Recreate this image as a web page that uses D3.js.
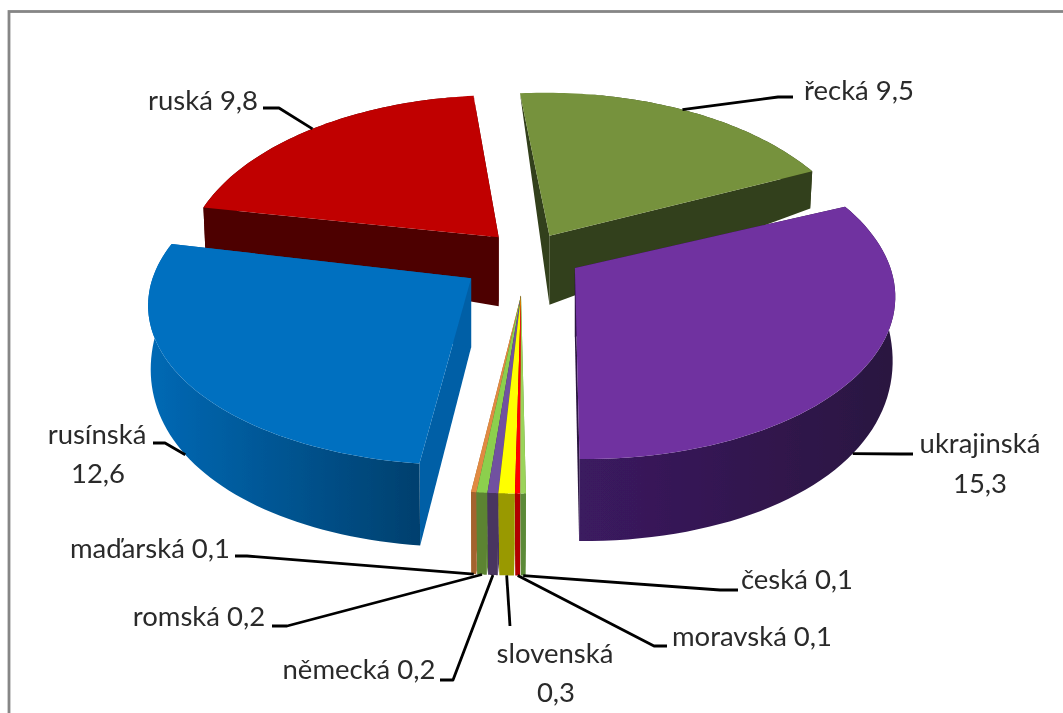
<!DOCTYPE html>
<html><head><meta charset="utf-8">
<script src="https://cdn.jsdelivr.net/npm/d3@7/dist/d3.min.js"></script>
<style>html,body{margin:0;padding:0;background:#fff;overflow:hidden}svg{display:block}</style>
</head><body><svg id="c" width="1063" height="713"></svg>
<script>
const categories = ["řecká","ukrajinská","česká","moravská","slovenská","německá","romská","maďarská","rusínská","ruská"];
const values = [9.5,15.3,0.1,0.1,0.3,0.2,0.2,0.1,12.6,9.8];
const topColors  = ["#76923c","#7030a0","#9bd35a","#ff0000","#ffff00","#7151a0","#8ccf4d","#e08a42","#0070c0","#c00000"];
const faceColors = ["#333f1a","#2a1540","#5c8a38","#b00000","#999900","#4a3560","#5c8433","#a4642e","#005fa6","#4d0000"];
const rimFrom    = ["#333f1a","#3b1a60","#5c8a38","#b00000","#999900","#4a3560","#5c8433","#a4642e","#0069b5","#4d0000"];
const rimTo      = ["#333f1a","#2a1540","#5c8a38","#b00000","#999900","#4a3560","#5c8433","#a4642e","#00406e","#4d0000"];
// ground-plane explosion and radius of each slice
const explodeX = [.092,.169,0,0,0,0,0,0,-.155,-.072];
const explodeY = [-.12,.079,.24,.24,.24,.24,.24,.24,.14,-.11];
const radiusX  = [1,.99,1.1,1.1,1.1,1.1,1.1,1.1,.99,1];
const radiusY  = [1.05,.975,.96,.96,.96,.96,.96,.96,.94,1.04];
// edge corrections for the picture's distorted 3-D view, degrees
const startTweak = [1.5,2.5,1.1,1.1,1.1,1.1,1.1,1.1,1,1];
const endTweak   = [1.5,2.5,1.1,1.1,1.1,1.1,1.1,1.1,3,1];
const leaderTweak= [0,4,0,0,0,0,0,0,0,0];
// label layout: text lines [anchor x, baseline y], leader elbow points
const labelLines = [
 [[859,100,"řecká 9,5"]],
 [[980,453,"ukrajinská"],[980,493,"15,3"]],
 [[797,589,"česká 0,1"]],
 [[752,646,"moravská 0,1"]],
 [[555,663,"slovenská"],[556,702,"0,3"]],
 [[359,679,"německá 0,2"]],
 [[199,626,"romská 0,2"]],
 [[150,558,"maďarská 0,1"]],
 [[97,444,"rusínská"],[98,483,"12,6"]],
 [[203,110,"ruská 9,8"]]
];
const leaderElbows = [
 [[793,97],[778,97]],
 [[913,454],[900,454]],
 [[738,590],[720,590]],
 [[667,646],[654,646]],
 [[510,626]],
 [[440,680],[453,680]],
 [[272,626],[287,626]],
 [[235,556],[247,556]],
 [[153,443],[165,443]],
 [[263,108],[279,108]]
];
const drawOrder = [0,9,1,8,7,6,5,4,3,2];

const svg = d3.select("#c");
const defs = svg.append("defs");
const blur = defs.append("filter").attr("id","soft").attr("filterUnits","userSpaceOnUse")
  .attr("x",0).attr("y",0).attr("width",1063).attr("height",713);
blur.append("feGaussianBlur").attr("stdDeviation",0.5);
const root = svg.append("g").attr("filter","url(#soft)");
root.append("rect").attr("x",9).attr("y",11.5).attr("width",1100).attr("height",800)
  .attr("fill","#fff").attr("stroke","#868686").attr("stroke-width",2.8);

const CX=521, CY=255, A=315, B=163, Q=.15, APEXDEPTH=69;
const rad = Math.PI/180;
const rotation = -7*rad;
const pie = d3.pie().sort(null).startAngle(rotation).endAngle(rotation+2*Math.PI);
const arcs = pie(values).map((a,i)=>({value:a.value,
  startAngle:a.startAngle+startTweak[i]*rad, endAngle:a.endAngle+endTweak[i]*rad}));
const line = d3.line();

function proj(X,Y){const w=1-Q*Y;return [CX+A*X/w,CY+B*Y/w];}
function rimDepth(Y){return Math.max(0,57.4+41.6*Y-17*Y*Y);}
function topPt(i,th,t){
  return proj(explodeX[i]+t*radiusX[i]*Math.sin(th), explodeY[i]-t*radiusY[i]*Math.cos(th));
}
function botPt(i,th,t){
  const p=topPt(i,th,t), c=-Math.cos(th);
  const d=APEXDEPTH+(rimDepth(c)-APEXDEPTH)*t;
  const small=values[i]<1;
  let x=p[0];
  if(small){const mid=topPt(i,(arcs[i].startAngle+arcs[i].endAngle)/2,t)[0];x=mid+(x-mid)*.88;}
  else x=CX+(x-CX)*(1-.007*t);
  return [x,p[1]+d];
}
function rimAngles(i){
  const a=arcs[i];
  return d3.range(61).map(k=>a.startAngle+(a.endAngle-a.startAngle)*k/60);
}
drawOrder.forEach(i=>{
  const a=arcs[i], g=root.append("g").attr("class","slice");
  const ths=rimAngles(i);
  const rimT=ths.map(t=>topPt(i,t,1)), rimB=ths.map(t=>botPt(i,t,1));
  const xs=rimT.map(p=>p[0]);
  const gid="rim"+i;
  const grad=defs.append("linearGradient").attr("id",gid).attr("gradientUnits","userSpaceOnUse")
    .attr("x1",d3.min(xs)).attr("x2",d3.max(xs)+.01).attr("y1",0).attr("y2",0);
  grad.append("stop").attr("offset",0).attr("stop-color",rimFrom[i]);
  grad.append("stop").attr("offset",1).attr("stop-color",rimTo[i]);
  const apexT=topPt(i,a.startAngle,0), apexB=botPt(i,a.startAngle,0);
  [a.startAngle,a.endAngle].forEach(t=>{
    g.append("path").attr("fill",faceColors[i])
     .attr("d",line([apexT,topPt(i,t,1),botPt(i,t,1),apexB])+"Z");
  });
  g.append("path").attr("fill",`url(#${gid})`)
   .attr("d",line(rimT.concat(rimB.slice().reverse()))+"Z");
  g.append("path").attr("fill",topColors[i])
   .attr("d",line([apexT].concat(rimT))+"Z");
});

const farSide=[0,9];
categories.forEach((name,i)=>{
  const mid=(arcs[i].startAngle+arcs[i].endAngle)/2+leaderTweak[i]*rad;
  const anchor=farSide.includes(i)?topPt(i,mid,1):botPt(i,mid,1);
  root.append("path").attr("fill","none").attr("stroke","#000").attr("stroke-width",2.8)
    .attr("stroke-linejoin","round")
    .attr("d",line(leaderElbows[i].concat([anchor])));
  labelLines[i].forEach(l=>{
    root.append("text").attr("x",l[0]).attr("y",l[1]).attr("text-anchor","middle")
      .attr("font-family","Lato, 'Open Sans', sans-serif").attr("font-size",27.5).attr("fill","#2b2b2b").text(l[2]);
  });
});
</script></body></html>
